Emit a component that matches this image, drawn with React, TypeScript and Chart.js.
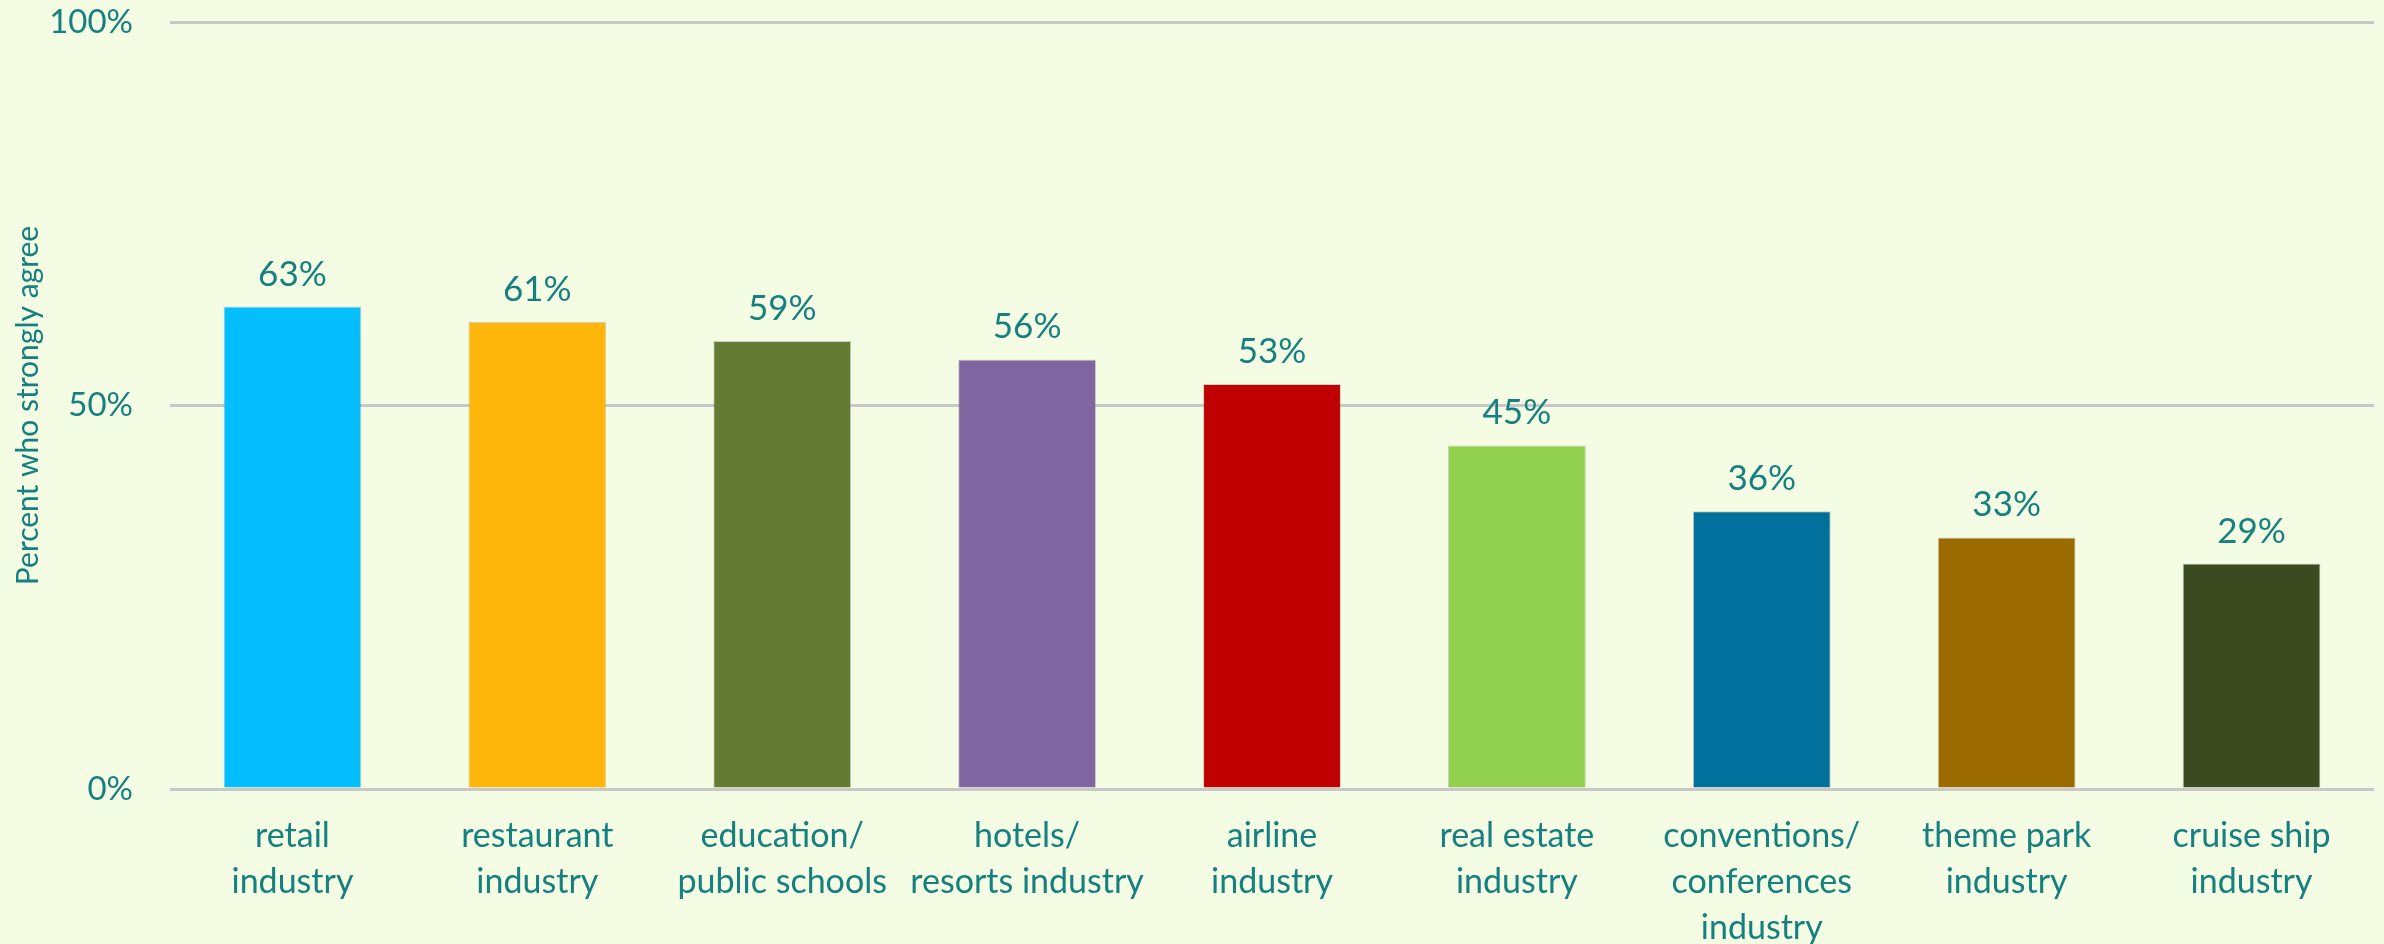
import React, { useEffect, useRef } from "react";
import { Chart, registerables } from "chart.js";

Chart.register(...registerables);

const categories: string[][] = [
  ["retail", "industry"],
  ["restaurant", "industry"],
  ["education/", "public schools"],
  ["hotels/", "resorts industry"],
  ["airline", "industry"],
  ["real estate", "industry"],
  ["conventions/", "conferences", "industry"],
  ["theme park", "industry"],
  ["cruise ship", "industry"],
];
const values: number[] = [62.9, 60.9, 58.4, 56.0, 52.8, 44.8, 36.2, 32.8, 29.4];
const valueLabels: string[] = ["63%", "61%", "59%", "56%", "53%", "45%", "36%", "33%", "29%"];
const barColors: string[] = [
  "#05BEFF",
  "#FFB60A",
  "#647B33",
  "#8066A0",
  "#C00000",
  "#92D050",
  "#00719C",
  "#9C6B00",
  "#3B4A1F",
];
const yTicks: number[] = [0, 50, 100];

const TEXT = "#168080";
const FONT = "Lato, 'Noto Sans', sans-serif";

const labelPlugin = {
  id: "valueLabels",
  afterDatasetsDraw(chart: any) {
    const ctx = chart.ctx;
    const meta = chart.getDatasetMeta(0);
    ctx.save();
    ctx.fillStyle = TEXT;
    ctx.font = `35px ${FONT}`;
    ctx.textAlign = "center";
    ctx.textBaseline = "alphabetic";
    meta.data.forEach((bar: any, i: number) => {
      ctx.fillText(valueLabels[i], bar.x, bar.y - 21);
    });
    ctx.restore();
  },
};

const bgPlugin = {
  id: "bg",
  beforeDraw(chart: any) {
    const ctx = chart.ctx;
    ctx.save();
    ctx.fillStyle = "#F4FDE4";
    ctx.fillRect(0, 0, chart.width, chart.height);
    ctx.restore();
  },
};

export default function App() {
  const ref = useRef<HTMLCanvasElement | null>(null);
  useEffect(() => {
    document.body.style.margin = "0";
    document.body.style.background = "#F4FDE4";
    const chart = new Chart(ref.current as HTMLCanvasElement, {
      type: "bar",
      data: {
        labels: categories as any,
        datasets: [
          {
            data: values,
            backgroundColor: barColors,
            borderColor: "rgba(120,120,120,0.35)",
            borderWidth: 1,
            categoryPercentage: 1,
            barPercentage: 0.563,
          },
        ],
      },
      options: {
        animation: false,
        responsive: false,
        devicePixelRatio: 1,
        layout: { padding: { top: 22, right: 10, left: 0, bottom: 0 } },
        plugins: {
          legend: { display: false },
          tooltip: { enabled: false },
        },
        scales: {
          x: {
            offset: true,
            grid: { display: false, drawTicks: false },
            border: { display: false },
            ticks: {
              color: TEXT,
              font: { family: FONT, size: 34, lineHeight: 1.35 },
              padding: 24,
              maxRotation: 0,
              autoSkip: false,
            },
            afterFit(scale: any) {
              scale.height = 155;
            },
          },
          y: {
            min: 0,
            max: 100,
            afterBuildTicks(scale: any) {
              scale.ticks = yTicks.map((v) => ({ value: v }));
            },
            grid: { color: "#C8C8C8", lineWidth: 3, drawTicks: false },
            border: { display: false },
            ticks: {
              color: TEXT,
              font: { family: FONT, size: 33 },
              padding: 37,
              callback: (v: any) => `${v}%`,
            },
            title: {
              display: true,
              text: "Percent who strongly agree",
              color: TEXT,
              font: { family: FONT, size: 30 },
              padding: { top: 10, bottom: 0 },
            },
            afterFit(scale: any) {
              scale.width = 170;
              scale.paddingTop = 0;
            },
          },
        },
      },
      plugins: [bgPlugin, labelPlugin],
    });
    return () => chart.destroy();
  }, []);
  return <canvas ref={ref} width={2384} height={944} style={{ display: "block" }} />;
}
